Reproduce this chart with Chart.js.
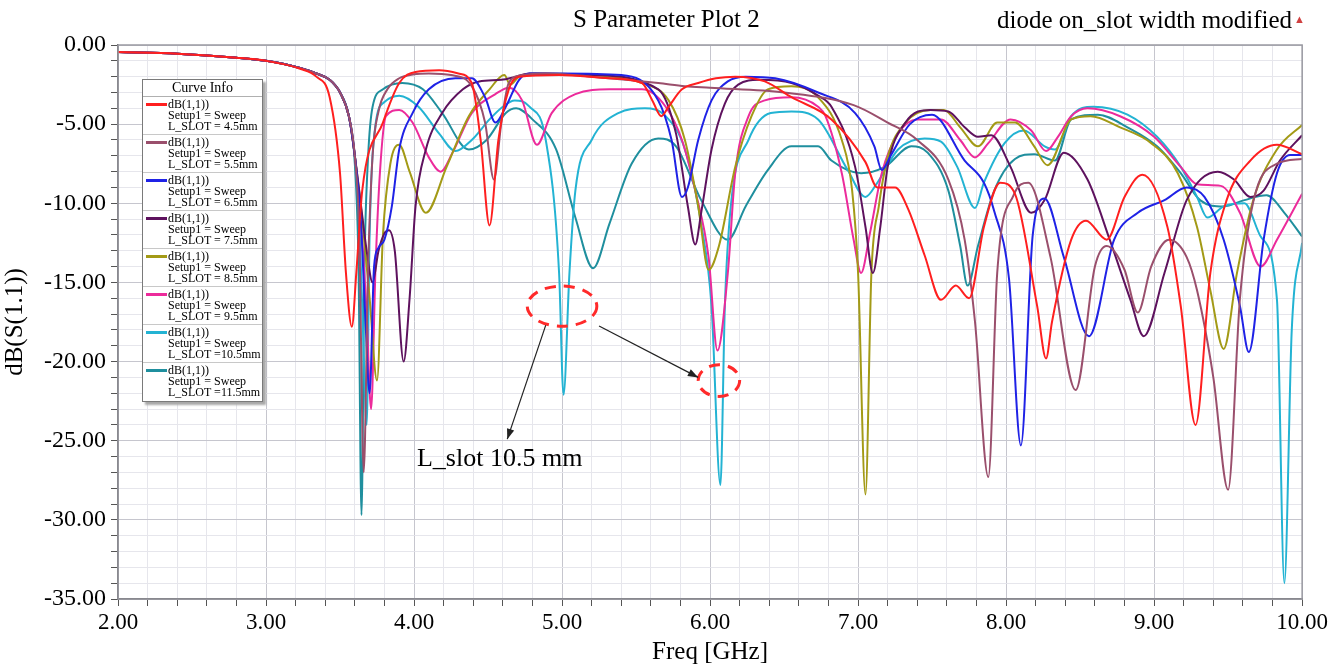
<!DOCTYPE html>
<html>
<head>
<meta charset="utf-8">
<title>S Parameter Plot 2</title>
<script src="https://cdn.jsdelivr.net/npm/chart.js@4.4.1/dist/chart.umd.min.js"></script>
<style>
  html, body { margin: 0; padding: 0; background: #fff; }
  #wrap { position: relative; width: 1331px; height: 671px; font-family: "Liberation Serif", "Times New Roman", serif; color: #000; }
  #sChart { position: absolute; left: 0; top: 0; }
  .head { position: absolute; top: 4px; font-size: 25px; white-space: nowrap; line-height: 30px; }
  #plotTitle { left: 573px; }
  #plotNote { right: 26px; }
  #plotNote span { color: #d04040; font-size: 11px; vertical-align: 5px; margin-left: 2px; }
  #legend { position: absolute; left: 142px; top: 79px; width: 119px; background: #fff; border: 1px solid #7a7a7a;
            box-shadow: 3px 3px 2px #a8a8a8; font-size: 12px; }
  #legend .cap { text-align: center; font-size: 14px; line-height: 16px; border-bottom: 1px solid #b0b0b0; }
  #legend .item { position: relative; height: 38px; border-bottom: 1px solid #c8c8c8; padding-left: 25px; line-height: 10.8px; padding-top: 2px; box-sizing: border-box; }
  #legend .item:last-child { border-bottom: none; }
  #legend .sw { position: absolute; left: 3px; top: 6px; width: 21px; height: 3px; }
  #note { position: absolute; font-size: 26px; white-space: nowrap; line-height: 30px; }
</style>
</head>
<body>
<div id="wrap">
  <canvas id="sChart" width="1331" height="671"></canvas>
  <div class="head" id="plotTitle">S Parameter Plot 2</div>
  <div class="head" id="plotNote">diode on_slot width modified<span>&#9650;</span></div>
  <div id="legend"></div>
  <div id="note">L_slot 10.5 mm</div>
</div>
<script>
// S11 sweeps, [freq GHz, dB]
const slot45 = [[2.0,-0.45],[2.4,-0.55],[2.8,-0.8],[3.0,-1.0],[3.23,-1.5],[3.34,-2.0],[3.43,-3.3],[3.50,-8.1],[3.54,-14.4],[3.58,-17.8],[3.61,-14.4],[3.65,-9.2],[3.79,-4.9],[3.90,-2.4],[4.01,-1.7],[4.17,-1.6],[4.30,-1.8],[4.39,-2.4],[4.45,-6.0],[4.51,-11.4],[4.57,-6.0],[4.64,-2.8],[4.71,-2.0],[4.98,-1.9],[5.32,-2.1],[5.54,-2.4],[5.61,-3.5],[5.67,-4.5],[5.72,-3.9],[5.81,-2.8],[5.92,-2.4],[6.04,-2.1],[6.17,-2.0],[6.37,-2.3],[6.55,-3.3],[6.82,-4.7],[7.05,-7.4],[7.13,-9.0],[7.25,-9.0],[7.34,-10.4],[7.45,-13.3],[7.56,-16.1],[7.66,-15.2],[7.75,-16.0],[7.85,-11.5],[7.96,-8.7],[8.06,-9.4],[8.21,-16.5],[8.27,-19.8],[8.31,-17.5],[8.44,-12.3],[8.54,-11.1],[8.68,-12.3],[8.80,-9.6],[8.92,-8.2],[9.09,-11.5],[9.18,-16.5],[9.28,-24.0],[9.38,-14.4],[9.49,-9.8],[9.65,-7.3],[9.83,-6.3],[10.0,-6.9]];
const slot55 = [[2.0,-0.45],[2.4,-0.55],[2.8,-0.8],[3.0,-1.0],[3.23,-1.45],[3.34,-1.8],[3.43,-2.2],[3.50,-3.0],[3.56,-4.5],[3.60,-7.0],[3.63,-12],[3.66,-27],[3.69,-14],[3.72,-7],[3.76,-4.2],[3.82,-2.8],[3.90,-2.1],[4.0,-1.85],[4.10,-1.8],[4.25,-1.9],[4.39,-2.6],[4.48,-4.9],[4.54,-8.5],[4.59,-4.9],[4.64,-2.4],[4.73,-1.9],[4.89,-1.8],[5.2,-2.0],[5.65,-2.4],[5.83,-2.6],[6.0,-2.7],[6.5,-3.0],[6.97,-3.8],[7.2,-4.9],[7.4,-6.0],[7.61,-8.5],[7.72,-12.3],[7.79,-17.5],[7.88,-27.3],[7.94,-14.4],[8.05,-9.5],[8.15,-8.7],[8.30,-13.4],[8.47,-21.8],[8.60,-14.0],[8.68,-12.7],[8.80,-14.2],[8.89,-16.9],[8.98,-14.0],[9.10,-12.3],[9.22,-13.4],[9.29,-15.5],[9.40,-21],[9.50,-28.1],[9.58,-16],[9.67,-9.9],[9.83,-7.5],[10.0,-7.2]];
const slot65 = [[2.0,-0.45],[2.4,-0.55],[2.8,-0.8],[3.0,-1.0],[3.23,-1.45],[3.34,-1.8],[3.43,-2.2],[3.50,-3.0],[3.56,-4.5],[3.60,-7],[3.64,-11],[3.67,-17],[3.70,-22],[3.73,-14],[3.76,-12.8],[3.80,-12.3],[3.85,-10.2],[3.90,-6.6],[3.99,-4.3],[4.10,-2.8],[4.28,-2.1],[4.39,-2.1],[4.48,-3.3],[4.55,-4.9],[4.62,-3.9],[4.71,-2.2],[4.78,-1.8],[5.0,-1.8],[5.4,-1.9],[5.65,-3.5],[5.74,-6.0],[5.81,-9.6],[5.85,-9.0],[5.92,-6.0],[6.01,-3.5],[6.12,-2.3],[6.24,-2.0],[6.44,-2.1],[6.73,-3.0],[6.98,-4.3],[7.11,-6.4],[7.16,-7.9],[7.22,-7.0],[7.35,-5.0],[7.50,-4.4],[7.72,-7.3],[7.85,-8.7],[7.92,-10.5],[8.02,-14.8],[8.10,-25.3],[8.18,-12],[8.26,-9.7],[8.39,-13.4],[8.56,-18.4],[8.73,-12.3],[8.89,-10.6],[9.07,-9.8],[9.22,-9.0],[9.34,-9.6],[9.47,-12.3],[9.58,-16.5],[9.64,-19.4],[9.74,-12.3],[9.83,-8.1],[9.92,-6.95],[10.0,-6.95]];
const slot75 = [[2.0,-0.45],[2.4,-0.55],[2.8,-0.8],[3.0,-1.0],[3.23,-1.45],[3.34,-1.8],[3.43,-2.2],[3.50,-3.0],[3.56,-4.5],[3.60,-7],[3.64,-10],[3.68,-13],[3.72,-15],[3.76,-13],[3.80,-11.9],[3.83,-11.7],[3.87,-13],[3.93,-20],[3.97,-16],[4.01,-10.2],[4.08,-6.6],[4.19,-4.3],[4.33,-2.8],[4.44,-2.3],[4.59,-2.2],[4.69,-2.0],[4.78,-1.8],[5.2,-1.9],[5.65,-2.8],[5.77,-5.6],[5.85,-10.2],[5.90,-12.6],[5.94,-10.6],[6.01,-6.6],[6.10,-3.7],[6.19,-2.5],[6.33,-2.2],[6.55,-2.4],[6.73,-3.2],[6.82,-3.9],[6.98,-7.7],[7.05,-11.5],[7.10,-14.4],[7.15,-11.5],[7.20,-7.7],[7.32,-4.9],[7.49,-4.1],[7.61,-4.2],[7.72,-5.2],[7.81,-5.8],[7.90,-5.7],[8.03,-7.7],[8.17,-10.6],[8.26,-9.8],[8.39,-6.8],[8.55,-8.5],[8.70,-12.3],[8.84,-16.1],[8.93,-18.4],[9.07,-14.4],[9.22,-9.8],[9.43,-8.0],[9.54,-8.5],[9.65,-9.6],[9.74,-9.2],[9.85,-7.3],[10.0,-5.7]];
const slot85 = [[2.0,-0.45],[2.4,-0.55],[2.8,-0.8],[3.0,-1.0],[3.23,-1.45],[3.34,-1.8],[3.43,-2.2],[3.50,-3.0],[3.56,-4.5],[3.60,-7],[3.65,-11],[3.70,-16],[3.75,-21.2],[3.79,-12],[3.84,-7.5],[3.90,-6.3],[3.97,-8.0],[4.08,-10.6],[4.22,-7.7],[4.37,-4.5],[4.51,-2.8],[4.61,-1.9],[4.65,-2.5],[4.71,-2.0],[4.82,-1.8],[5.2,-1.9],[5.54,-2.4],[5.72,-3.5],[5.83,-6.0],[5.92,-10.2],[5.99,-14.2],[6.06,-12.7],[6.17,-7.7],[6.28,-4.5],[6.39,-2.8],[6.55,-2.6],[6.73,-3.3],[6.89,-6.0],[6.96,-9.2],[7.00,-14.4],[7.05,-28.4],[7.09,-14.4],[7.14,-10.2],[7.20,-7.1],[7.32,-4.9],[7.49,-4.1],[7.58,-4.1],[7.69,-5.2],[7.81,-6.4],[7.94,-4.9],[8.06,-4.9],[8.19,-6.4],[8.28,-7.6],[8.44,-4.7],[8.57,-4.5],[8.77,-5.2],[8.98,-6.2],[9.16,-8.1],[9.29,-11.5],[9.38,-15.5],[9.47,-19.2],[9.56,-14.4],[9.67,-9.8],[9.83,-6.6],[10.0,-5.05]];
const slot95 = [[2.0,-0.45],[2.4,-0.55],[2.8,-0.8],[3.0,-1.0],[3.23,-1.45],[3.34,-1.8],[3.43,-2.2],[3.50,-3.0],[3.56,-4.5],[3.60,-7],[3.64,-11],[3.68,-17],[3.71,-23],[3.74,-14],[3.77,-8],[3.81,-4.5],[3.90,-4.1],[3.99,-4.9],[4.10,-7.1],[4.18,-8.0],[4.26,-6.8],[4.39,-4.3],[4.55,-3.1],[4.64,-2.7],[4.73,-3.5],[4.83,-6.3],[4.93,-4.3],[5.09,-3.1],[5.32,-2.8],[5.54,-2.8],[5.70,-3.9],[5.81,-6.0],[5.90,-9.2],[5.99,-13.4],[6.05,-19.3],[6.12,-14.4],[6.17,-8.1],[6.26,-4.5],[6.37,-3.5],[6.55,-3.3],[6.73,-3.9],[6.78,-4.5],[6.89,-8.1],[6.97,-12.3],[7.02,-14.4],[7.08,-11.9],[7.16,-8.1],[7.27,-5.6],[7.40,-4.7],[7.56,-4.7],[7.69,-6.0],[7.79,-7.1],[7.88,-6.2],[8.03,-4.7],[8.17,-5.4],[8.27,-6.7],[8.35,-5.8],[8.44,-4.5],[8.55,-4.0],[8.77,-4.5],[9.00,-5.8],[9.18,-7.7],[9.29,-8.8],[9.45,-8.9],[9.58,-10.6],[9.72,-14.0],[9.83,-12.3],[10.0,-9.4]];
const slot105 = [[2.0,-0.45],[2.4,-0.55],[2.8,-0.8],[3.0,-1.0],[3.23,-1.45],[3.34,-1.8],[3.43,-2.2],[3.50,-3.0],[3.56,-4.5],[3.60,-7],[3.63,-11],[3.655,-18],[3.68,-24],[3.70,-12],[3.74,-5],[3.80,-3.6],[3.90,-3.2],[4.03,-3.9],[4.17,-5.6],[4.28,-6.7],[4.39,-6.0],[4.51,-4.7],[4.60,-3.9],[4.68,-3.5],[4.78,-3.9],[4.89,-6.0],[4.98,-14.4],[5.01,-22.1],[5.05,-14.4],[5.09,-9.2],[5.20,-6.0],[5.38,-4.3],[5.56,-4.0],[5.70,-4.5],[5.83,-6.6],[5.94,-11.3],[6.01,-16.5],[6.07,-27.8],[6.10,-16.5],[6.14,-10.2],[6.26,-6.0],[6.41,-4.3],[6.55,-4.2],[6.73,-4.7],[6.93,-7.9],[7.05,-9.6],[7.13,-8.7],[7.27,-6.6],[7.45,-5.9],[7.56,-6.1],[7.67,-7.7],[7.79,-10.3],[7.85,-8.7],[7.99,-6.2],[8.12,-5.4],[8.26,-6.4],[8.33,-6.6],[8.44,-4.5],[8.59,-3.9],[8.82,-4.4],[9.02,-5.8],[9.18,-7.7],[9.29,-9.6],[9.36,-10.9],[9.47,-10.2],[9.61,-10.0],[9.72,-12.1],[9.83,-16.1],[9.88,-34],[9.93,-18],[10.0,-12.5]];
const slot115 = [[2.0,-0.45],[2.4,-0.55],[2.8,-0.8],[3.0,-1.0],[3.23,-1.45],[3.34,-1.8],[3.43,-2.2],[3.50,-3.0],[3.56,-4.5],[3.60,-7.5],[3.625,-14],[3.645,-29.7],[3.665,-14],[3.69,-7],[3.72,-3.9],[3.79,-2.8],[3.92,-2.4],[4.06,-2.8],[4.19,-4.3],[4.37,-6.6],[4.49,-6.0],[4.62,-4.3],[4.69,-4.0],[4.80,-4.7],[4.96,-6.6],[5.09,-10.9],[5.21,-14.1],[5.32,-11.3],[5.47,-7.5],[5.65,-5.9],[5.77,-6.4],[5.94,-9.8],[6.12,-12.3],[6.24,-10.2],[6.39,-7.9],[6.55,-6.4],[6.73,-6.4],[6.82,-7.3],[7.02,-8.1],[7.18,-7.7],[7.36,-6.4],[7.47,-6.8],[7.61,-9.2],[7.69,-12.7],[7.74,-15.2],[7.81,-12.7],[7.92,-9.2],[8.06,-7.2],[8.19,-6.9],[8.33,-7.3],[8.44,-4.7],[8.62,-4.4],[8.82,-5.2],[9.02,-6.4],[9.18,-8.1],[9.31,-9.8],[9.47,-10.2],[9.61,-9.8],[9.76,-9.5],[9.88,-10.6],[10.0,-12.1]];

const seriesData = [slot45, slot55, slot65, slot75, slot85, slot95, slot105, slot115];
const seriesNames = ["L_SLOT = 4.5mm", "L_SLOT = 5.5mm", "L_SLOT = 6.5mm", "L_SLOT = 7.5mm",
                     "L_SLOT = 8.5mm", "L_SLOT = 9.5mm", "L_SLOT =10.5mm", "L_SLOT =11.5mm"];
const seriesColors = ["#ff1f1f", "#9a4f6c", "#1f22e6", "#5e125e", "#a39a16", "#ec2b9b", "#23b3d3", "#1f8f9e"];

// legend box (HFSS "Curve Info")
const legend = document.getElementById("legend");
legend.innerHTML = '<div class="cap">Curve Info</div>' + seriesNames.map((n, i) =>
  '<div class="item"><div class="sw" style="background:' + seriesColors[i] + '"></div>dB(1,1))<br>Setup1 = Sweep<br>' + n + '</div>'
).join("");

const isMajorX = v => Math.abs(v - Math.round(v)) < 1e-6;
const isMajorY = v => Math.abs(v / 5 - Math.round(v / 5)) < 1e-6;

// arrow + dashed ellipse call-outs, given in data units
const markup = {
  id: "markup",
  afterDraw(chart) {
    const { ctx, chartArea: a, scales: { x, y } } = chart;
    ctx.save();
    ctx.strokeStyle = "#9a9aa2";
    ctx.lineWidth = 1.5;
    ctx.strokeRect(a.left, a.top, a.right - a.left, a.bottom - a.top);

    const ellipse = (cx, cy, rx, ry) => {
      const px = x.getPixelForValue(cx), py = y.getPixelForValue(cy);
      const prx = Math.abs(x.getPixelForValue(cx + rx) - px);
      const pry = Math.abs(y.getPixelForValue(cy + ry) - py);
      ctx.beginPath();
      ctx.setLineDash([11, 8]);
      ctx.strokeStyle = "#ff2a2a";
      ctx.lineWidth = 3;
      ctx.ellipse(px, py, prx, pry, 0, 0, Math.PI * 2);
      ctx.stroke();
      ctx.setLineDash([]);
    };
    const arrow = (x1, y1, x2, y2) => {
      const ax = x.getPixelForValue(x1), ay = y.getPixelForValue(y1);
      const bx = x.getPixelForValue(x2), by = y.getPixelForValue(y2);
      const ang = Math.atan2(by - ay, bx - ax);
      ctx.strokeStyle = "#222";
      ctx.fillStyle = "#222";
      ctx.lineWidth = 1.2;
      ctx.beginPath();
      ctx.moveTo(ax, ay);
      ctx.lineTo(bx, by);
      ctx.stroke();
      ctx.beginPath();
      ctx.moveTo(bx, by);
      ctx.lineTo(bx - 11 * Math.cos(ang - 0.35), by - 11 * Math.sin(ang - 0.35));
      ctx.lineTo(bx - 11 * Math.cos(ang + 0.35), by - 11 * Math.sin(ang + 0.35));
      ctx.closePath();
      ctx.fill();
    };
    ellipse(5.0, -16.5, 0.235, 1.27);
    ellipse(6.06, -21.2, 0.14, 1.0);
    arrow(4.89, -17.7, 4.63, -24.9);
    arrow(5.25, -17.75, 5.92, -21.0);
    ctx.restore();

    const note = document.getElementById("note");
    note.style.left = x.getPixelForValue(4.02) + "px";
    note.style.top = (y.getPixelForValue(-26.1) - 15) + "px";
  }
};

const ctx = document.getElementById("sChart").getContext("2d");
new Chart(ctx, {
  type: "scatter",
  data: {
    datasets: seriesData.map((pts, i) => ({
      label: seriesNames[i],
      data: pts.map(p => ({ x: p[0], y: p[1] })),
      showLine: true,
      borderColor: seriesColors[i],
      backgroundColor: seriesColors[i],
      borderWidth: 2,
      pointRadius: 0,
      cubicInterpolationMode: "monotone",
    })),
  },
  options: {
    responsive: false,
    animation: false,
    events: [],
    layout: { padding: { left: 0, top: 45, right: 26, bottom: 0 } },
    plugins: { legend: { display: false }, tooltip: { enabled: false } },
    scales: {
      x: {
        type: "linear",
        min: 2,
        max: 10,
        afterFit: s => { s.height = 72; },
        ticks: {
          stepSize: 0.2,
          autoSkip: false,
          maxRotation: 0,
          padding: 3,
          color: "#000",
          font: { family: "Liberation Serif", size: 23 },
          callback: v => (isMajorX(v) ? Number(v).toFixed(2) : ""),
        },
        grid: {
          color: c => (isMajorX(c.tick.value) ? "#c6c6ce" : "#e6e6ec"),
          tickColor: "#555",
          tickLength: 7,
        },
        border: { color: "#555", width: 1.5 },
        title: { display: true, text: "Freq [GHz]", color: "#000", padding: { top: 0, bottom: 4 },
                 font: { family: "Liberation Serif", size: 25 } },
      },
      y: {
        min: -35,
        max: 0,
        afterFit: s => { s.width = 118; },
        ticks: {
          stepSize: 1,
          autoSkip: false,
          padding: 5,
          color: "#000",
          font: { family: "Liberation Serif", size: 24 },
          callback: v => (isMajorY(v) ? Number(v).toFixed(2) : ""),
        },
        grid: {
          color: c => (isMajorY(c.tick.value) ? "#c6c6ce" : "#e6e6ec"),
          tickColor: "#555",
          tickLength: 7,
        },
        border: { color: "#555", width: 1.5 },
        title: { display: true, text: "dB(S(1.1))", color: "#000", padding: { top: 0, bottom: 0 },
                 font: { family: "Liberation Serif", size: 25 } },
      },
    },
  },
  plugins: [markup],
});
</script>
</body>
</html>
